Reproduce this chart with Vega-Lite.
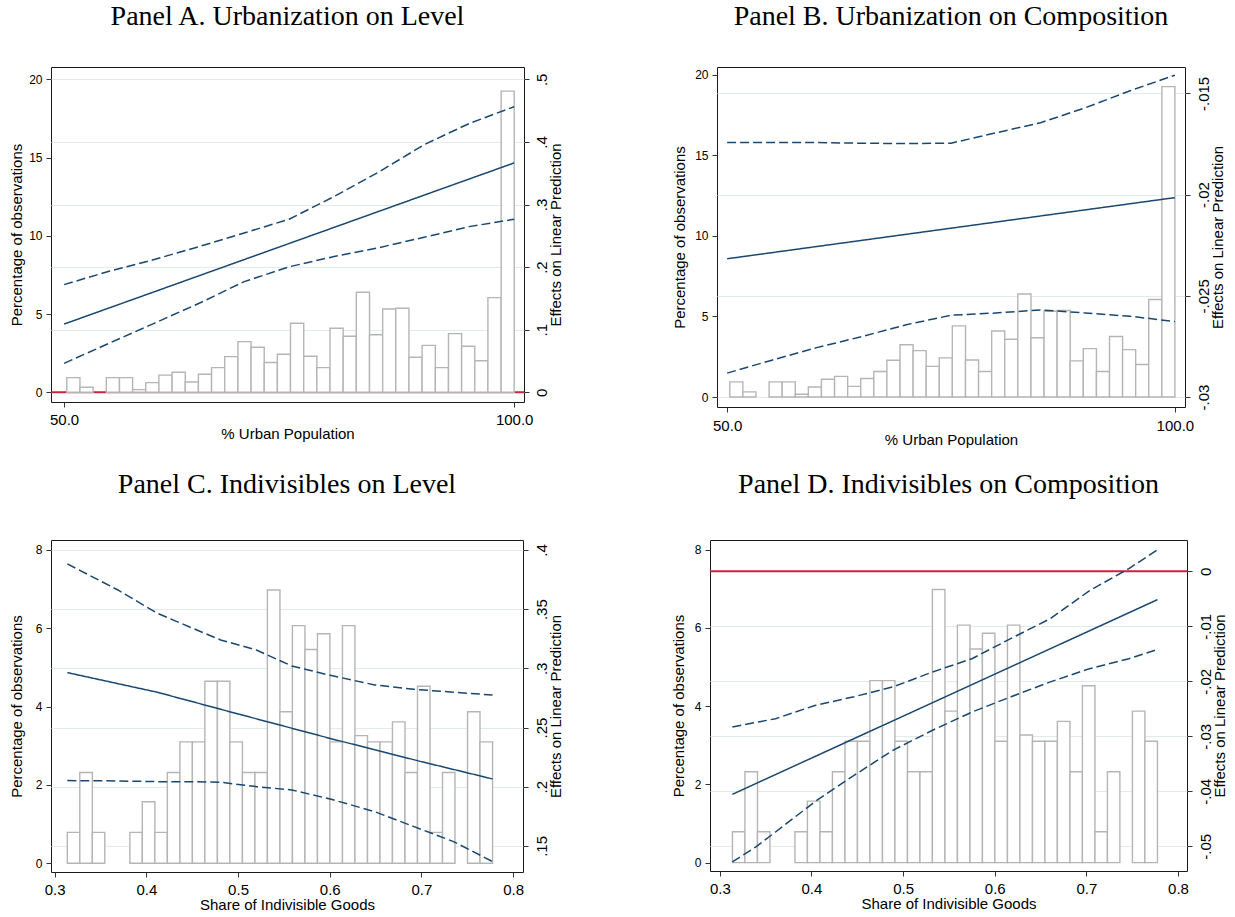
{
  "$schema": "https://vega.github.io/schema/vega-lite/v6.json",
  "background": "white",
  "padding": {"left": 8, "top": 2, "right": 0, "bottom": 0},
  "config": {
    "view": {"stroke": "#1a1a1a", "strokeWidth": 1},
    "font": "Liberation Sans",
    "axis": {
      "domain": false,
      "labelFont": "Liberation Sans",
      "titleFont": "Liberation Sans",
      "labelColor": "#000",
      "titleColor": "#000",
      "titleFontWeight": "normal",
      "titleFontSize": 15,
      "labelFontSize": 15,
      "tickColor": "#333",
      "tickSize": 5,
      "labelFlush": false,
      "labelOverlap": false,
      "grid": false,
      "gridColor": "#e2ebec",
      "gridWidth": 1
    },
    "title": {
      "font": "Liberation Serif",
      "fontSize": 28,
      "fontWeight": "normal",
      "anchor": "middle",
      "frame": "group",
      "baseline": "alphabetic",
      "color": "#000"
    }
  },
  "datasets": {
    "hist1": [
      {"a": 50.30, "b": 51.76, "p": 0.94},
      {"a": 51.76, "b": 53.22, "p": 0.32},
      {"a": 54.69, "b": 56.15, "p": 0.94},
      {"a": 56.15, "b": 57.61, "p": 0.94},
      {"a": 57.61, "b": 59.07, "p": 0.17},
      {"a": 59.07, "b": 60.53, "p": 0.62},
      {"a": 60.53, "b": 62.00, "p": 1.10},
      {"a": 62.00, "b": 63.46, "p": 1.28},
      {"a": 63.46, "b": 64.92, "p": 0.66},
      {"a": 64.92, "b": 66.38, "p": 1.15},
      {"a": 66.38, "b": 67.84, "p": 1.58},
      {"a": 67.84, "b": 69.31, "p": 2.28},
      {"a": 69.31, "b": 70.77, "p": 3.24},
      {"a": 70.77, "b": 72.23, "p": 2.88},
      {"a": 72.23, "b": 73.69, "p": 1.90},
      {"a": 73.69, "b": 75.15, "p": 2.43},
      {"a": 75.15, "b": 76.62, "p": 4.41},
      {"a": 76.62, "b": 78.08, "p": 2.30},
      {"a": 78.08, "b": 79.54, "p": 1.58},
      {"a": 79.54, "b": 81.00, "p": 4.09},
      {"a": 81.00, "b": 82.46, "p": 3.58},
      {"a": 82.46, "b": 83.93, "p": 6.39},
      {"a": 83.93, "b": 85.39, "p": 3.68},
      {"a": 85.39, "b": 86.85, "p": 5.32},
      {"a": 86.85, "b": 88.31, "p": 5.37},
      {"a": 88.31, "b": 89.77, "p": 2.24},
      {"a": 89.77, "b": 91.24, "p": 3.00},
      {"a": 91.24, "b": 92.70, "p": 1.58},
      {"a": 92.70, "b": 94.16, "p": 3.75},
      {"a": 94.16, "b": 95.62, "p": 2.94},
      {"a": 95.62, "b": 97.08, "p": 2.02},
      {"a": 97.08, "b": 98.55, "p": 6.05},
      {"a": 98.55, "b": 100.00, "p": 19.25}
    ],
    "hist2": [
      {"a": 0.3138, "b": 0.3274, "p": 0.79},
      {"a": 0.3274, "b": 0.3411, "p": 2.32},
      {"a": 0.3411, "b": 0.3547, "p": 0.79},
      {"a": 0.3820, "b": 0.3956, "p": 0.79},
      {"a": 0.3956, "b": 0.4093, "p": 1.57},
      {"a": 0.4093, "b": 0.4229, "p": 0.79},
      {"a": 0.4229, "b": 0.4366, "p": 2.32},
      {"a": 0.4366, "b": 0.4502, "p": 3.10},
      {"a": 0.4502, "b": 0.4638, "p": 3.10},
      {"a": 0.4638, "b": 0.4775, "p": 4.65},
      {"a": 0.4775, "b": 0.4911, "p": 4.65},
      {"a": 0.4911, "b": 0.5048, "p": 3.10},
      {"a": 0.5048, "b": 0.5184, "p": 2.32},
      {"a": 0.5184, "b": 0.5320, "p": 2.32},
      {"a": 0.5320, "b": 0.5457, "p": 6.98},
      {"a": 0.5457, "b": 0.5593, "p": 3.87},
      {"a": 0.5593, "b": 0.5730, "p": 6.07},
      {"a": 0.5730, "b": 0.5866, "p": 5.46},
      {"a": 0.5866, "b": 0.6002, "p": 5.86},
      {"a": 0.6002, "b": 0.6139, "p": 3.10},
      {"a": 0.6139, "b": 0.6275, "p": 6.07},
      {"a": 0.6275, "b": 0.6412, "p": 3.26},
      {"a": 0.6412, "b": 0.6548, "p": 3.10},
      {"a": 0.6548, "b": 0.6684, "p": 3.10},
      {"a": 0.6684, "b": 0.6821, "p": 3.61},
      {"a": 0.6821, "b": 0.6957, "p": 2.32},
      {"a": 0.6957, "b": 0.7094, "p": 4.52},
      {"a": 0.7094, "b": 0.7230, "p": 0.79},
      {"a": 0.7230, "b": 0.7366, "p": 2.32},
      {"a": 0.7503, "b": 0.7639, "p": 3.87},
      {"a": 0.7639, "b": 0.7776, "p": 3.10}
    ],
    "linesA": [
      {"x": 50, "v": 0.109, "s": "est"},
      {"x": 60, "v": 0.1605, "s": "est"},
      {"x": 70, "v": 0.212, "s": "est"},
      {"x": 80, "v": 0.2635, "s": "est"},
      {"x": 90, "v": 0.315, "s": "est"},
      {"x": 100, "v": 0.3665, "s": "est"},
      {"x": 50, "v": 0.172, "s": "ub"},
      {"x": 55, "v": 0.1935, "s": "ub"},
      {"x": 60, "v": 0.2121, "s": "ub"},
      {"x": 65, "v": 0.2328, "s": "ub"},
      {"x": 70, "v": 0.2545, "s": "ub"},
      {"x": 75, "v": 0.2765, "s": "ub"},
      {"x": 80, "v": 0.3128, "s": "ub"},
      {"x": 85, "v": 0.3522, "s": "ub"},
      {"x": 90, "v": 0.3957, "s": "ub"},
      {"x": 95, "v": 0.4294, "s": "ub"},
      {"x": 100, "v": 0.4563, "s": "ub"},
      {"x": 50, "v": 0.0463, "s": "lb"},
      {"x": 55, "v": 0.0783, "s": "lb"},
      {"x": 60, "v": 0.1102, "s": "lb"},
      {"x": 65, "v": 0.1422, "s": "lb"},
      {"x": 70, "v": 0.1768, "s": "lb"},
      {"x": 75, "v": 0.2005, "s": "lb"},
      {"x": 80, "v": 0.217, "s": "lb"},
      {"x": 85, "v": 0.2312, "s": "lb"},
      {"x": 90, "v": 0.2477, "s": "lb"},
      {"x": 95, "v": 0.2647, "s": "lb"},
      {"x": 100, "v": 0.2764, "s": "lb"}
    ],
    "linesB": [
      {"x": 50, "v": -0.02317, "s": "est"},
      {"x": 75, "v": -0.02166, "s": "est"},
      {"x": 100, "v": -0.02015, "s": "est"},
      {"x": 50, "v": -0.01743, "s": "ub"},
      {"x": 55, "v": -0.01743, "s": "ub"},
      {"x": 60, "v": -0.01743, "s": "ub"},
      {"x": 65, "v": -0.01746, "s": "ub"},
      {"x": 70, "v": -0.01748, "s": "ub"},
      {"x": 75, "v": -0.01746, "s": "ub"},
      {"x": 80, "v": -0.01695, "s": "ub"},
      {"x": 85, "v": -0.01645, "s": "ub"},
      {"x": 90, "v": -0.01571, "s": "ub"},
      {"x": 95, "v": -0.01487, "s": "ub"},
      {"x": 100, "v": -0.0141, "s": "ub"},
      {"x": 50, "v": -0.02882, "s": "lb"},
      {"x": 55, "v": -0.02818, "s": "lb"},
      {"x": 60, "v": -0.02756, "s": "lb"},
      {"x": 65, "v": -0.02702, "s": "lb"},
      {"x": 70, "v": -0.02643, "s": "lb"},
      {"x": 75, "v": -0.02596, "s": "lb"},
      {"x": 80, "v": -0.02585, "s": "lb"},
      {"x": 85, "v": -0.0257, "s": "lb"},
      {"x": 90, "v": -0.02585, "s": "lb"},
      {"x": 95, "v": -0.02601, "s": "lb"},
      {"x": 100, "v": -0.02627, "s": "lb"}
    ],
    "linesC": [
      {"x": 0.3138, "v": 0.2964, "s": "est"},
      {"x": 0.412, "v": 0.2798, "s": "est"},
      {"x": 0.5, "v": 0.2615, "s": "est"},
      {"x": 0.6, "v": 0.2409, "s": "est"},
      {"x": 0.7, "v": 0.2212, "s": "est"},
      {"x": 0.7776, "v": 0.2066, "s": "est"},
      {"x": 0.3138, "v": 0.3882, "s": "ub"},
      {"x": 0.369, "v": 0.3662, "s": "ub"},
      {"x": 0.412, "v": 0.3465, "s": "ub"},
      {"x": 0.455, "v": 0.3324, "s": "ub"},
      {"x": 0.481, "v": 0.324, "s": "ub"},
      {"x": 0.52, "v": 0.3155, "s": "ub"},
      {"x": 0.5586, "v": 0.302, "s": "ub"},
      {"x": 0.6017, "v": 0.2939, "s": "ub"},
      {"x": 0.649, "v": 0.286, "s": "ub"},
      {"x": 0.692, "v": 0.2823, "s": "ub"},
      {"x": 0.735, "v": 0.2798, "s": "ub"},
      {"x": 0.7776, "v": 0.2775, "s": "ub"},
      {"x": 0.3138, "v": 0.2052, "s": "lb"},
      {"x": 0.369, "v": 0.2049, "s": "lb"},
      {"x": 0.412, "v": 0.2043, "s": "lb"},
      {"x": 0.455, "v": 0.2043, "s": "lb"},
      {"x": 0.481, "v": 0.2038, "s": "lb"},
      {"x": 0.52, "v": 0.2001, "s": "lb"},
      {"x": 0.5586, "v": 0.1973, "s": "lb"},
      {"x": 0.6017, "v": 0.1894, "s": "lb"},
      {"x": 0.649, "v": 0.179, "s": "lb"},
      {"x": 0.692, "v": 0.1663, "s": "lb"},
      {"x": 0.735, "v": 0.1537, "s": "lb"},
      {"x": 0.7776, "v": 0.1368, "s": "lb"}
    ],
    "linesD": [
      {"x": 0.3137, "v": -0.04055, "s": "est"},
      {"x": 0.5, "v": -0.02634, "s": "est"},
      {"x": 0.7777, "v": -0.00515, "s": "est"},
      {"x": 0.3137, "v": -0.0283, "s": "ub"},
      {"x": 0.3608, "v": -0.0268, "s": "ub"},
      {"x": 0.4037, "v": -0.0244, "s": "ub"},
      {"x": 0.4465, "v": -0.0228, "s": "ub"},
      {"x": 0.4894, "v": -0.021, "s": "ub"},
      {"x": 0.5322, "v": -0.0183, "s": "ub"},
      {"x": 0.5751, "v": -0.0159, "s": "ub"},
      {"x": 0.6179, "v": -0.0122, "s": "ub"},
      {"x": 0.6608, "v": -0.0086, "s": "ub"},
      {"x": 0.7036, "v": -0.0035, "s": "ub"},
      {"x": 0.7465, "v": 0.0005, "s": "ub"},
      {"x": 0.7777, "v": 0.0039, "s": "ub"},
      {"x": 0.3137, "v": -0.05285, "s": "lb"},
      {"x": 0.3394, "v": -0.0501, "s": "lb"},
      {"x": 0.3608, "v": -0.0474, "s": "lb"},
      {"x": 0.4037, "v": -0.0419, "s": "lb"},
      {"x": 0.4465, "v": -0.0371, "s": "lb"},
      {"x": 0.4894, "v": -0.0325, "s": "lb"},
      {"x": 0.5322, "v": -0.0289, "s": "lb"},
      {"x": 0.5751, "v": -0.0256, "s": "lb"},
      {"x": 0.6179, "v": -0.0228, "s": "lb"},
      {"x": 0.6608, "v": -0.0201, "s": "lb"},
      {"x": 0.7036, "v": -0.0177, "s": "lb"},
      {"x": 0.7465, "v": -0.0159, "s": "lb"},
      {"x": 0.7777, "v": -0.0142, "s": "lb"}
    ]
  },
  "spacing": 22,
  "vconcat": [
    {
      "spacing": 107,
      "hconcat": [
        {
          "width": 473,
          "height": 335,
          "title": {"text": "Panel A. Urbanization on Level", "offset": 36},
          "layer": [
            {
              "data": {"values": [{"zero": 0}]},
              "mark": {"type": "rule", "color": "#c8243f", "strokeWidth": 2},
              "encoding": {
                "y": {"field": "zero", "type": "quantitative", "scale": {"domain": [-0.0155, 0.5197], "nice": false, "zero": false}, "axis": null}
              }
            },
            {
              "data": {"name": "hist1"},
              "mark": {"type": "rect", "fill": "#ffffff", "stroke": "#b5b5b5", "strokeWidth": 1.4},
              "encoding": {
                "x": {"field": "a", "type": "quantitative", "scale": {"domain": [48.544, 101.09], "nice": false, "zero": false},
                  "axis": {"values": [50, 100], "format": ".1f", "title": "% Urban Population", "labelPadding": 5, "minExtent": 24, "maxExtent": 24, "titlePadding": 0}},
                "x2": {"field": "b"},
                "y": {"field": "p", "type": "quantitative", "scale": {"domain": [-0.62, 20.79], "nice": false, "zero": false},
                  "axis": {"orient": "left", "values": [0, 5, 10, 15, 20], "title": "Percentage of observations", "labelFontSize": 12, "labelPadding": 4, "minExtent": 21, "maxExtent": 21, "titlePadding": 6, "titleAngle": 270, "titleBaseline": "bottom"}},
                "y2": {"datum": 0}
              }
            },
            {
              "data": {"name": "linesA"},
              "mark": {"type": "line", "color": "#1a476f", "strokeWidth": 1.5},
              "encoding": {
                "x": {"field": "x", "type": "quantitative", "scale": {"domain": [48.544, 101.09], "nice": false, "zero": false}},
                "y": {"field": "v", "type": "quantitative", "scale": {"domain": [-0.0155, 0.5197], "nice": false, "zero": false},
                  "axis": {"orient": "right", "values": [0, 0.1, 0.2, 0.3, 0.4, 0.5], "labelExpr": "(datum.value < 0 ? '-' : '') + replace(format(abs(datum.value), '~g'), '0.', '.')", "title": "Effects on Linear Prediction", "grid": true, "labelAngle": 270, "labelAlign": "center", "labelBaseline": "top", "labelPadding": 5, "titleAngle": 270, "titleBaseline": "top", "minExtent": 22, "maxExtent": 22, "titlePadding": 2}},
                "strokeDash": {"field": "s", "type": "nominal", "scale": {"domain": ["est", "lb", "ub"], "range": [[1, 0], [9, 4], [9, 4]]}, "legend": null}
              }
            }
          ],
          "resolve": {"scale": {"y": "independent"}}
        },
        {
          "width": 468,
          "height": 340,
          "title": {"text": "Panel B. Urbanization on Composition", "offset": 36},
          "layer": [
            {
              "data": {"name": "hist1"},
              "mark": {"type": "rect", "fill": "#ffffff", "stroke": "#b5b5b5", "strokeWidth": 1.4},
              "encoding": {
                "x": {"field": "a", "type": "quantitative", "scale": {"domain": [48.87, 101.13], "nice": false, "zero": false},
                  "axis": {"values": [50, 100], "format": ".1f", "title": "% Urban Population", "labelPadding": 6, "minExtent": 25, "maxExtent": 25, "titlePadding": 0}},
                "x2": {"field": "b"},
                "y": {"field": "p", "type": "quantitative", "scale": {"domain": [-0.62, 20.47], "nice": false, "zero": false},
                  "axis": {"orient": "left", "values": [0, 5, 10, 15, 20], "title": "Percentage of observations", "labelFontSize": 12, "labelPadding": 4, "minExtent": 24, "maxExtent": 24, "titlePadding": 6, "titleAngle": 270, "titleBaseline": "bottom"}},
                "y2": {"datum": 0}
              }
            },
            {
              "data": {"name": "linesB"},
              "mark": {"type": "line", "color": "#1a476f", "strokeWidth": 1.5},
              "encoding": {
                "x": {"field": "x", "type": "quantitative", "scale": {"domain": [48.87, 101.13], "nice": false, "zero": false}},
                "y": {"field": "v", "type": "quantitative", "scale": {"domain": [-0.030494, -0.013696], "nice": false, "zero": false},
                  "axis": {"orient": "right", "values": [-0.03, -0.025, -0.02, -0.015], "labelExpr": "(datum.value < 0 ? '-' : '') + replace(format(abs(datum.value), '~g'), '0.', '.')", "title": "Effects on Linear Prediction", "grid": true, "labelAngle": 270, "labelAlign": "center", "labelBaseline": "top", "labelPadding": 6, "titleAngle": 270, "titleBaseline": "top", "minExtent": 22, "maxExtent": 22, "titlePadding": 3}},
                "strokeDash": {"field": "s", "type": "nominal", "scale": {"domain": ["est", "lb", "ub"], "range": [[1, 0], [9, 4], [9, 4]]}, "legend": null}
              }
            }
          ],
          "resolve": {"scale": {"y": "independent"}}
        }
      ]
    },
    {
      "spacing": 106,
      "hconcat": [
        {
          "width": 472,
          "height": 332,
          "title": {"text": "Panel C. Indivisibles on Level", "offset": 41},
          "layer": [
            {
              "data": {"name": "hist2"},
              "mark": {"type": "rect", "fill": "#ffffff", "stroke": "#b5b5b5", "strokeWidth": 1.4},
              "encoding": {
                "x": {"field": "a", "type": "quantitative", "scale": {"domain": [0.296, 0.8108], "nice": false, "zero": false},
                  "axis": {"values": [0.3, 0.4, 0.5, 0.6, 0.7, 0.8], "format": ".1f", "title": "Share of Indivisible Goods", "labelPadding": 5, "minExtent": 25, "maxExtent": 25, "titlePadding": 0}},
                "x2": {"field": "b"},
                "y": {"field": "p", "type": "quantitative", "scale": {"domain": [-0.222, 8.255], "nice": false, "zero": false},
                  "axis": {"orient": "left", "values": [0, 2, 4, 6, 8], "title": "Percentage of observations", "labelFontSize": 12, "labelPadding": 4, "minExtent": 21, "maxExtent": 21, "titlePadding": 6, "titleAngle": 270, "titleBaseline": "bottom"}},
                "y2": {"datum": 0}
              }
            },
            {
              "data": {"name": "linesC"},
              "mark": {"type": "line", "color": "#1a476f", "strokeWidth": 1.5},
              "encoding": {
                "x": {"field": "x", "type": "quantitative", "scale": {"domain": [0.296, 0.8108], "nice": false, "zero": false}},
                "y": {"field": "v", "type": "quantitative", "scale": {"domain": [0.128, 0.4084], "nice": false, "zero": false},
                  "axis": {"orient": "right", "values": [0.15, 0.2, 0.25, 0.3, 0.35, 0.4], "labelExpr": "(datum.value < 0 ? '-' : '') + replace(format(abs(datum.value), '~g'), '0.', '.')", "title": "Effects on Linear Prediction", "grid": true, "labelAngle": 270, "labelAlign": "center", "labelBaseline": "top", "labelPadding": 6, "titleAngle": 270, "titleBaseline": "top", "minExtent": 22, "maxExtent": 22, "titlePadding": 3}},
                "strokeDash": {"field": "s", "type": "nominal", "scale": {"domain": ["est", "lb", "ub"], "range": [[1, 0], [9, 4], [9, 4]]}, "legend": null}
              }
            }
          ],
          "resolve": {"scale": {"y": "independent"}}
        },
        {
          "width": 477,
          "height": 331,
          "title": {"text": "Panel D. Indivisibles on Composition", "offset": 41},
          "layer": [
            {
              "data": {"values": [{"zero": 0}]},
              "mark": {"type": "rule", "color": "#c8243f", "strokeWidth": 2},
              "encoding": {
                "y": {"field": "zero", "type": "quantitative", "scale": {"domain": [-0.05449, 0.00569], "nice": false, "zero": false}, "axis": null}
              }
            },
            {
              "data": {"name": "hist2"},
              "mark": {"type": "rect", "fill": "#ffffff", "stroke": "#b5b5b5", "strokeWidth": 1.4},
              "encoding": {
                "x": {"field": "a", "type": "quantitative", "scale": {"domain": [0.28929, 0.80985], "nice": false, "zero": false},
                  "axis": {"values": [0.3, 0.4, 0.5, 0.6, 0.7, 0.8], "format": ".1f", "title": "Share of Indivisible Goods", "labelPadding": 5, "minExtent": 25, "maxExtent": 25, "titlePadding": 0}},
                "x2": {"field": "b"},
                "y": {"field": "p", "type": "quantitative", "scale": {"domain": [-0.215, 8.245], "nice": false, "zero": false},
                  "axis": {"orient": "left", "values": [0, 2, 4, 6, 8], "title": "Percentage of observations", "labelFontSize": 12, "labelPadding": 4, "minExtent": 18, "maxExtent": 18, "titlePadding": 6, "titleAngle": 270, "titleBaseline": "bottom"}},
                "y2": {"datum": 0}
              }
            },
            {
              "data": {"name": "linesD"},
              "mark": {"type": "line", "color": "#1a476f", "strokeWidth": 1.5},
              "encoding": {
                "x": {"field": "x", "type": "quantitative", "scale": {"domain": [0.28929, 0.80985], "nice": false, "zero": false}},
                "y": {"field": "v", "type": "quantitative", "scale": {"domain": [-0.05449, 0.00569], "nice": false, "zero": false},
                  "axis": {"orient": "right", "values": [-0.05, -0.04, -0.03, -0.02, -0.01, 0], "labelExpr": "(datum.value < 0 ? '-' : '') + replace(format(abs(datum.value), '~g'), '0.', '.')", "title": "Effects on Linear Prediction", "grid": true, "labelAngle": 270, "labelAlign": "center", "labelBaseline": "top", "labelPadding": 6, "titleAngle": 270, "titleBaseline": "top", "minExtent": 22, "maxExtent": 22, "titlePadding": 3}},
                "strokeDash": {"field": "s", "type": "nominal", "scale": {"domain": ["est", "lb", "ub"], "range": [[1, 0], [9, 4], [9, 4]]}, "legend": null}
              }
            }
          ],
          "resolve": {"scale": {"y": "independent"}}
        }
      ]
    }
  ]
}
